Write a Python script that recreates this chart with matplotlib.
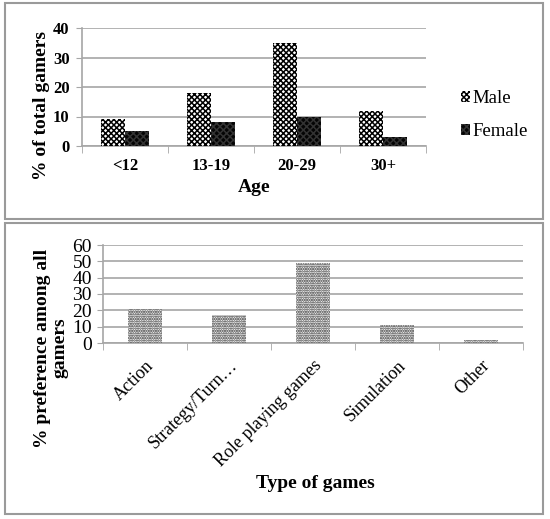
import matplotlib
matplotlib.use("Agg")
import matplotlib.pyplot as plt
import numpy as np
from matplotlib.patches import Rectangle

plt.rcParams['font.family'] = ['Liberation Serif', 'DejaVu Serif']
plt.rcParams['hatch.linewidth'] = 1.1

# ---- data ----
age_groups = ["<12", "13-19", "20-29", "30+"]
male = [9, 18, 35, 12]
female = [5, 8, 10, 3]
age_yticks = [0, 10, 20, 30, 40]

game_types = ["Action", "Strategy/Turn\u2026", "Role playing games", "Simulation", "Other"]
preference = [21, 17, 49, 11, 2]
game_yticks = [0, 10, 20, 30, 40, 50, 60]

W, H = 550, 519
fig = plt.figure(figsize=(W / 100, H / 100), dpi=100)

def fx(px):
    return px / W

def fy(py):
    return 1 - py / H

# panel borders
for (x0, y0, x1, y1) in [(5, 3, 543, 219), (5, 223, 543, 514)]:
    fig.patches.append(Rectangle((fx(x0), fy(y1)), fx(x1) - fx(x0), fy(y0) - fy(y1),
                                 transform=fig.transFigure, fill=False,
                                 edgecolor='#9a9a9a', linewidth=1.5))

grid_c = '#a6a6a6'

# ---- top chart ----
ax1 = fig.add_axes([fx(82), fy(146), fx(426) - fx(82), fy(28) - fy(146)])
x = np.arange(len(age_groups))
bw = 0.28
ax1.bar(x - bw / 2, male, bw, facecolor='white', edgecolor='black', hatch='xxxxxx',
        linewidth=0, label='Male', zorder=3)
ax1.bar(x + bw / 2, female, bw, facecolor='#050505', edgecolor='#333333', hatch='xxxxx',
        linewidth=0, label='Female', zorder=3)
ax1.set_xlim(-0.5, len(age_groups) - 0.5)
ax1.set_ylim(0, 40)
ax1.set_yticks(age_yticks)
ax1.set_yticklabels([str(v) for v in age_yticks], fontweight='bold', fontsize=12)
ax1.set_xticks(x)
ax1.set_xticklabels(age_groups, fontweight='bold', fontsize=12)
ax1.set_xticks(np.arange(-0.5, len(age_groups)), minor=True)
ax1.tick_params(axis='x', which='major', length=0, pad=9)
ax1.tick_params(axis='x', which='minor', length=5, color=grid_c, direction='out')
ax1.tick_params(axis='y', length=4, color=grid_c, pad=5)
ax1.yaxis.grid(True, color=grid_c, linewidth=1.2, zorder=0)
for s in ['top', 'right']:
    ax1.spines[s].set_visible(False)
for s in ['left', 'bottom']:
    ax1.spines[s].set_color(grid_c)
    ax1.spines[s].set_linewidth(1.2)
ax1.set_axisbelow(True)
fig.text(fx(42), fy(105), "% of total gamers", rotation=90, ha='center', va='center',
         fontweight='bold', fontsize=14)
fig.text(fx(254), fy(188), "Age", ha='center', va='center', fontweight='bold', fontsize=14)
leg = ax1.legend(loc='center left', bbox_to_anchor=(fx(453), fy(115)), bbox_transform=fig.transFigure,
                 frameon=False, fontsize=13.5, handlelength=0.5, handleheight=0.5,
                 handletextpad=0.15, labelspacing=0.85, borderaxespad=0)

# ---- bottom chart ----
ax2 = fig.add_axes([fx(103), fy(343), fx(523) - fx(103), fy(245) - fy(343)])
xg = np.arange(len(game_types))
ax2.bar(xg, preference, 0.4, facecolor='white', edgecolor='#262626', hatch='.......',
        linewidth=0, zorder=3)
ax2.set_xlim(-0.5, len(game_types) - 0.5)
ax2.set_ylim(0, 60)
ax2.set_yticks(game_yticks)
ax2.set_yticklabels([str(v) for v in game_yticks], fontsize=14)
ax2.set_xticks(xg)
ax2.set_xticklabels(game_types, fontsize=13, rotation=45, ha='right', rotation_mode='anchor')
ax2.set_xticks(np.arange(-0.5, len(game_types)), minor=True)
ax2.tick_params(axis='x', which='major', length=0, pad=10)
ax2.tick_params(axis='x', which='minor', length=5, color=grid_c, direction='out')
ax2.tick_params(axis='y', length=4, color=grid_c, pad=4)
ax2.yaxis.grid(True, color=grid_c, linewidth=1.2, zorder=0)
for s in ['top', 'right']:
    ax2.spines[s].set_visible(False)
for s in ['left', 'bottom']:
    ax2.spines[s].set_color(grid_c)
    ax2.spines[s].set_linewidth(1.2)
ax2.set_axisbelow(True)
fig.text(fx(51), fy(348), "% preference among all\ngamers", rotation=90, ha='center', va='center',
         fontweight='bold', fontsize=14, linespacing=1.05)
fig.text(fx(315), fy(483), "Type of games", ha='center', va='center', fontweight='bold', fontsize=14)

fig.savefig("out.png", dpi=100)
